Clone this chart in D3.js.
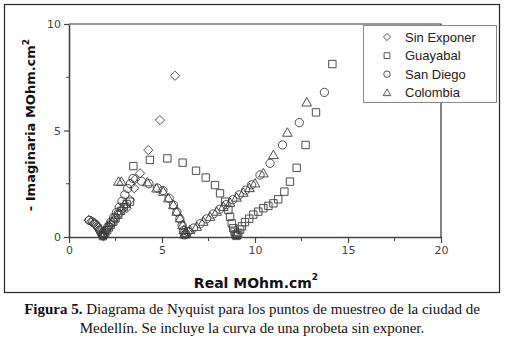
<!DOCTYPE html>
<html>
<head>
<meta charset="utf-8">
<script src="https://cdn.jsdelivr.net/npm/d3@7"></script>
<style>
  body { margin: 0; background: #fff; }
  svg { display: block; }
</style>
</head>
<body>
<script>
// Nyquist diagram, Medellin sampling points
// values: [real, -imaginary] in MOhm.cm2

var seriesNames = ["Sin Exponer", "Guayabal", "San Diego", "Colombia"];

var sinExponer = [[1.05,0.80],[1.2,0.74],[1.35,0.66],[1.48,0.55],[1.58,0.42],[1.67,0.28],[1.74,0.16],[1.8,0.07],
  [1.85,0.03],[1.9,0.12],[1.95,0.25],[2.1,0.42],[2.25,0.58],[2.4,0.75],[2.55,0.92],[2.7,1.1],[2.85,1.3],[3.0,1.5],[3.1,1.35],
  [3.28,1.74],[3.51,2.29],[3.55,2.71],[3.82,2.99],[4.26,4.08],[4.89,5.49],[5.7,7.57]];

var guayabal = [[1.82,0.04],[1.85,0.1],[1.95,0.2],[2.05,0.32],[2.15,0.45],[2.25,0.58],[2.38,0.72],[2.5,0.88],[2.65,1.05],
  [2.8,1.22],[2.95,1.4],[3.1,1.55],[3.28,1.66],[3.46,3.33],[4.35,3.62],[5.29,3.69],[6.11,3.49],[6.83,3.11],
  [7.35,2.79],[7.85,2.44],[8.12,2.05],[8.39,1.66],[8.57,1.27],[8.66,0.95],[8.75,0.64],[8.83,0.41],[8.9,0.25],
  [8.95,0.12],[9.0,0.05],[9.05,0.1],[9.1,0.2],[9.2,0.35],[9.3,0.5],[9.46,0.7],[9.69,0.86],[9.91,1.05],[10.18,1.19],
  [10.45,1.35],[10.72,1.46],[10.99,1.58],[11.25,1.77],[11.58,2.13],[11.88,2.6],[12.24,3.25],[12.72,4.32],
  [13.28,5.85],[14.16,8.12]];

var sanDiego = [[1.1,0.78],[1.28,0.7],[1.42,0.6],[1.55,0.47],[1.65,0.33],[1.73,0.2],[1.8,0.08],
  [1.95,0.3],[2.1,0.5],[2.25,0.7],[2.4,0.92],[2.55,1.15],[2.7,1.4],[2.85,1.68],[3.0,1.98],[3.15,2.28],
  [3.3,2.5],[3.44,2.75],[3.9,2.62],[4.3,2.5],[4.75,2.3],[5.05,2.18],[5.38,1.82],[5.62,1.5],[5.8,1.18],
  [5.96,0.85],[6.08,0.55],[6.15,0.3],[6.2,0.1],[6.28,0.15],[6.4,0.25],[6.7,0.42],[7.05,0.62],[7.4,0.85],[7.75,1.08],
  [8.1,1.3],[8.45,1.52],[8.8,1.75],[9.15,1.98],[9.5,2.2],[9.82,2.45],[10.27,2.91],[10.81,3.46],
  [11.48,4.32],[12.38,5.37],[13.73,6.79]];

var colombia = [[2.66,2.6],[2.82,2.6],[4.21,2.57],[4.71,2.28],[5.07,2.13],[5.34,1.82],[5.61,1.5],[5.79,1.19],
  [5.97,0.88],[6.11,0.56],[6.18,0.33],[6.22,0.12],[6.3,0.2],[6.5,0.33],[6.87,0.48],[7.22,0.72],[7.58,0.95],
  [7.94,1.19],[8.3,1.42],[8.66,1.61],[9.01,1.85],[9.37,2.08],[9.7,2.3],[10.0,2.52],[10.45,2.99],
  [10.99,3.85],[11.74,4.9],[12.78,6.32]];

var xTicks = [0, 5, 10, 15, 20];
var yTicks = [0, 5, 10];
var xMinor = [2.5, 7.5, 12.5, 17.5];
var yMinor = [2.5, 7.5];

var W = 505, H = 342;
var plot = {left: 69, right: 441, top: 24, bottom: 237};

var svg = d3.select("body").append("svg")
    .attr("width", W)
    .attr("height", H);

svg.append("rect").attr("width", W).attr("height", H).attr("fill", "#fff");

// outer frame
svg.append("rect")
    .attr("x", 4.5).attr("y", 4.5)
    .attr("width", 495).attr("height", 288)
    .attr("fill", "none").attr("stroke", "#222").attr("stroke-width", 1.2);

var x = d3.scaleLinear().domain([0, 20]).range([plot.left, plot.right]);
var y = d3.scaleLinear().domain([0, 10]).range([plot.bottom, plot.top]);

// top and right border
svg.append("path")
    .attr("d", "M" + plot.left + "," + plot.top + "H" + plot.right + "V" + plot.bottom)
    .attr("fill", "none").attr("stroke", "#333").attr("stroke-width", 1.2);

// axes
var gx = svg.append("g")
    .attr("transform", "translate(0," + plot.bottom + ")")
    .call(d3.axisBottom(x).tickValues(xTicks).tickSize(6).tickPadding(3).tickSizeOuter(0));
gx.append("g").selectAll("line").data(xMinor).enter().append("line")
    .attr("x1", function(d){ return x(d); }).attr("x2", function(d){ return x(d); })
    .attr("y1", 0).attr("y2", 4).attr("stroke", "#444");

var gy = svg.append("g")
    .attr("transform", "translate(" + plot.left + ",0)")
    .call(d3.axisLeft(y).tickValues(yTicks).tickSize(5).tickPadding(3).tickSizeOuter(0));
gy.append("g").selectAll("line").data(yMinor).enter().append("line")
    .attr("y1", function(d){ return y(d); }).attr("y2", function(d){ return y(d); })
    .attr("x1", 0).attr("x2", -3).attr("stroke", "#444");

svg.selectAll(".domain").attr("stroke", "#444").attr("stroke-width", 1.6);
svg.selectAll(".tick line").attr("stroke", "#444").attr("stroke-width", 1.2);
svg.selectAll(".tick text")
    .attr("font-family", "DejaVu Sans")
    .attr("font-size", 11)
    .attr("fill", "#444");

// marker shapes
function markerPath(kind, s) {
  if (kind == 0) return "M0," + (-s) + "L" + s + ",0L0," + s + "L" + (-s) + ",0Z";
  if (kind == 1) { var h = s * 0.8; return "M" + (-h) + "," + (-h) + "H" + h + "V" + h + "H" + (-h) + "Z"; }
  if (kind == 2) { var r = s * 0.9; return "M" + r + ",0A" + r + "," + r + " 0 1,1 " + (-r) + ",0A" + r + "," + r + " 0 1,1 " + r + ",0Z"; }
  var t = s * 1.05;
  return "M0," + (-t) + "L" + t + "," + (t * 0.75) + "L" + (-t) + "," + (t * 0.75) + "Z";
}

var allSeries = [sinExponer, guayabal, sanDiego, colombia];

allSeries.forEach(function(data, i) {
  svg.append("g").selectAll("path")
      .data(data)
      .enter().append("path")
      .attr("d", markerPath(i, 4.6))
      .attr("transform", function(d){ return "translate(" + x(d[0]) + "," + y(d[1]) + ")"; })
      .attr("fill", "none")
      .attr("stroke", "#3a3a3a")
      .attr("stroke-width", 0.9);
});

// legend
var legend = svg.append("g");
legend.append("rect")
    .attr("x", 363.5).attr("y", 25.5)
    .attr("width", 133).attr("height", 77)
    .attr("fill", "#fff").attr("stroke", "#888");

seriesNames.forEach(function(name, i) {
  var ly = 37 + i * 18.6;
  legend.append("path")
      .attr("d", markerPath(i, 3.6))
      .attr("transform", "translate(387," + ly + ")")
      .attr("fill", "none").attr("stroke", "#444").attr("stroke-width", 0.9);
  legend.append("text")
      .attr("x", 405).attr("y", ly + 4.5)
      .attr("font-family", "Liberation Sans, Arial")
      .attr("font-size", 13)
      .attr("fill", "#222")
      .text(name);
});

// axis titles
var yt = svg.append("text")
    .attr("transform", "translate(35,125) rotate(-90)")
    .attr("text-anchor", "middle")
    .attr("font-family", "DejaVu Sans")
    .attr("font-weight", "bold")
    .attr("font-size", 13)
    .attr("fill", "#111");
yt.append("tspan").text("- Imaginaria MOhm.cm");
yt.append("tspan").attr("dy", -6).attr("font-size", 9).text("2");

var xt = svg.append("text")
    .attr("x", 256).attr("y", 288)
    .attr("text-anchor", "middle")
    .attr("font-family", "DejaVu Sans")
    .attr("font-weight", "bold")
    .attr("font-size", 14)
    .attr("fill", "#111");
xt.append("tspan").text("Real MOhm.cm");
xt.append("tspan").attr("dy", -8).attr("font-size", 9).text("2");

// caption
var cap1 = svg.append("text")
    .attr("x", 252).attr("y", 314)
    .attr("text-anchor", "middle")
    .attr("font-family", "Liberation Serif")
    .attr("font-size", 15)
    .attr("fill", "#111");
cap1.append("tspan").attr("font-weight", "bold").text("Figura 5.");
cap1.append("tspan").text(" Diagrama de Nyquist para los puntos de muestreo de la ciudad de");

svg.append("text")
    .attr("x", 252).attr("y", 333)
    .attr("text-anchor", "middle")
    .attr("font-family", "Liberation Serif")
    .attr("font-size", 15)
    .attr("fill", "#111")
    .text("Medellín. Se incluye la curva de una probeta sin exponer.");
</script>
</body>
</html>
